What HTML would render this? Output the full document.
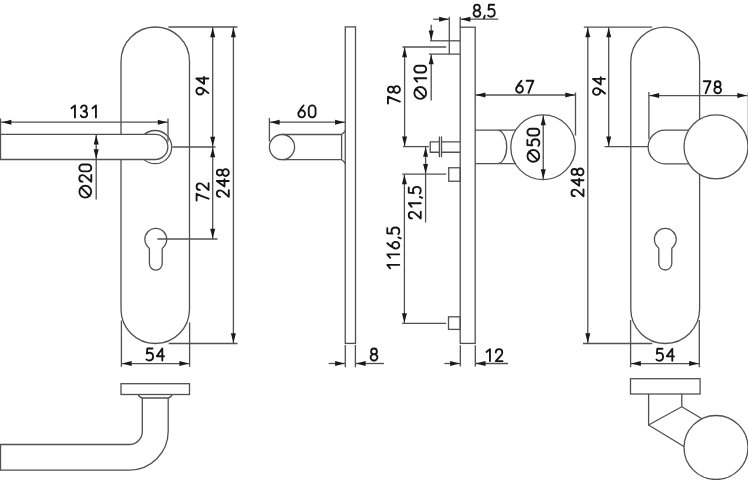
<!DOCTYPE html>
<html><head><meta charset="utf-8"><style>
html,body{margin:0;padding:0;background:#fff;width:748px;height:480px;overflow:hidden}
svg{display:block}
</style></head><body>
<svg width="748" height="480" viewBox="0 0 748 480">
<g>
<g fill="none" stroke="#505050" stroke-width="1.3">
<path d="M121,61.25 A34.25,34.25 0 0 1 189.5,61.25 L189.5,309.25 A34.25,34.25 0 0 1 121,309.25 Z" fill="#fff"/>
<path d="M149.40,249.22 Q149.40,248.12 148.51,247.41 A10.9,10.9 0 1 1 163.09,247.41 Q162.20,248.12 162.20,249.22 L162.20,263.80 A6.4,6.4 0 0 1 149.40,263.80 Z"/>
<circle cx="155.1" cy="147.1" r="16.6" fill="#fff"/>
<path d="M0.5,134.4 L155.3,134.4 A12.55,12.55 0 0 1 155.3,159.5 L0.5,159.5 Z" fill="#fff"/>
<line x1="0.5" y1="122.2" x2="168" y2="122.2"/>
<polygon points="1.80,122.20 11.40,119.70 11.40,124.70" fill="#1a1a1a" stroke="none"/>
<polygon points="167.40,122.20 157.80,119.70 157.80,124.70" fill="#1a1a1a" stroke="none"/>
<line x1="0.5" y1="118.5" x2="0.5" y2="134.4"/>
<line x1="168" y1="118.5" x2="168" y2="141.7"/>
<line x1="96.2" y1="134.4" x2="96.2" y2="199.4"/>
<polygon points="96.20,135.00 93.70,144.60 98.70,144.60" fill="#1a1a1a" stroke="none"/>
<polygon points="96.20,158.90 93.70,149.30 98.70,149.30" fill="#1a1a1a" stroke="none"/>
<line x1="168.4" y1="27" x2="237.5" y2="27"/>
<line x1="172.4" y1="147" x2="215.5" y2="147"/>
<line x1="157.4" y1="239" x2="217.5" y2="239"/>
<line x1="168.7" y1="343.5" x2="237.5" y2="343.5"/>
<line x1="212.7" y1="27" x2="212.7" y2="239"/>
<polygon points="212.70,27.60 210.20,37.20 215.20,37.20" fill="#1a1a1a" stroke="none"/>
<polygon points="212.70,146.40 210.20,136.80 215.20,136.80" fill="#1a1a1a" stroke="none"/>
<polygon points="212.70,147.60 210.20,157.20 215.20,157.20" fill="#1a1a1a" stroke="none"/>
<polygon points="212.70,238.40 210.20,228.80 215.20,228.80" fill="#1a1a1a" stroke="none"/>
<line x1="233.4" y1="27" x2="233.4" y2="343.5"/>
<polygon points="233.40,27.60 230.90,37.20 235.90,37.20" fill="#1a1a1a" stroke="none"/>
<polygon points="233.40,342.90 230.90,333.30 235.90,333.30" fill="#1a1a1a" stroke="none"/>
<line x1="121.4" y1="320.6" x2="121.4" y2="366.8"/>
<line x1="189.6" y1="322.4" x2="189.6" y2="366.8"/>
<line x1="121.4" y1="363.6" x2="189.6" y2="363.6"/>
<polygon points="122.00,363.60 131.60,361.10 131.60,366.10" fill="#1a1a1a" stroke="none"/>
<polygon points="189.00,363.60 179.40,361.10 179.40,366.10" fill="#1a1a1a" stroke="none"/>
<rect x="121" y="383.7" width="68.5" height="10.800000000000011" fill="#fff"/>
<path d="M138,394.3 Q139.6,397.9 142.3,398 L168.1,398 Q170.8,397.9 172.3,394.3"/>
<path d="M142.3,398 L142.3,431.5 A13,13 0 0 1 129.3,444.5 L0.5,444.5 L0.5,470.2 L129.3,470.2 A38.9,38.9 0 0 0 168.2,431.3 L168.2,398"/>
<rect x="345.25" y="26.9" width="10.25" height="316.5" fill="#fff"/>
<path d="M341.6,134.5 L282,134.5 M282,159.7 L341.6,159.7 L341.6,134.5 Q344,133 345.25,130.5 M341.6,159.7 Q344,161 345.25,163.6"/>
<circle cx="282" cy="147.1" r="12.6" fill="#fff"/>
<line x1="269.4" y1="122.2" x2="345.25" y2="122.2"/>
<polygon points="270.00,122.20 279.60,119.70 279.60,124.70" fill="#1a1a1a" stroke="none"/>
<polygon points="344.65,122.20 335.05,119.70 335.05,124.70" fill="#1a1a1a" stroke="none"/>
<line x1="269.4" y1="118" x2="269.4" y2="141.5"/>
<line x1="345.3" y1="345" x2="345.3" y2="367.3"/>
<line x1="355.4" y1="345" x2="355.4" y2="367.3"/>
<line x1="328.7" y1="363.5" x2="345.3" y2="363.5"/>
<polygon points="344.70,363.50 335.10,361.00 335.10,366.00" fill="#1a1a1a" stroke="none"/>
<line x1="355.4" y1="363.5" x2="384" y2="363.5"/>
<polygon points="356.00,363.50 365.60,361.00 365.60,366.00" fill="#1a1a1a" stroke="none"/>
<rect x="460.2" y="27.2" width="15.0" height="316.2" fill="#fff"/>
<line x1="449.3" y1="16.7" x2="449.3" y2="54.1"/>
<line x1="430" y1="40.8" x2="460.2" y2="40.8"/>
<line x1="429" y1="54.1" x2="460.2" y2="54.1"/>
<line x1="460.2" y1="16.7" x2="460.2" y2="27.2"/>
<line x1="433.3" y1="19.2" x2="449.3" y2="19.2"/>
<polygon points="448.70,19.20 439.10,16.70 439.10,21.70" fill="#1a1a1a" stroke="none"/>
<line x1="460.2" y1="19.2" x2="498.3" y2="19.2"/>
<polygon points="460.80,19.20 470.40,16.70 470.40,21.70" fill="#1a1a1a" stroke="none"/>
<line x1="431.2" y1="24.7" x2="431.2" y2="40.8"/>
<polygon points="431.20,40.20 428.70,30.60 433.70,30.60" fill="#1a1a1a" stroke="none"/>
<line x1="431.2" y1="54.1" x2="431.2" y2="100.5"/>
<polygon points="431.20,54.70 428.70,64.30 433.70,64.30" fill="#1a1a1a" stroke="none"/>
<line x1="402.4" y1="47" x2="446.2" y2="47"/>
<line x1="402.9" y1="146.6" x2="428.8" y2="146.6"/>
<line x1="404.6" y1="47" x2="404.6" y2="146.6"/>
<polygon points="404.60,47.60 402.10,57.20 407.10,57.20" fill="#1a1a1a" stroke="none"/>
<polygon points="404.60,146.00 402.10,136.40 407.10,136.40" fill="#1a1a1a" stroke="none"/>
<path d="M439.4,141.9 L430.25,141.9 L430.25,152.25 L439.4,152.25 M441.5,141.9 L460.2,141.9 M441.5,152.25 L460.2,152.25"/>
<line x1="439.4" y1="136.5" x2="439.4" y2="157.25"/>
<line x1="441.5" y1="136.5" x2="441.5" y2="157.25"/>
<line x1="425.6" y1="146.6" x2="425.6" y2="222.5"/>
<polygon points="425.60,147.20 423.10,156.80 428.10,156.80" fill="#1a1a1a" stroke="none"/>
<polygon points="425.60,173.50 423.10,163.90 428.10,163.90" fill="#1a1a1a" stroke="none"/>
<line x1="402.3" y1="174.1" x2="446.2" y2="174.1"/>
<rect x="448.75" y="167.75" width="11.449999999999989" height="13.5" fill="none"/>
<rect x="448.5" y="316.8" width="11.699999999999989" height="12.599999999999966" fill="none"/>
<line x1="404.4" y1="174.1" x2="404.4" y2="323.4"/>
<polygon points="404.40,174.70 401.90,184.30 406.90,184.30" fill="#1a1a1a" stroke="none"/>
<polygon points="404.40,322.80 401.90,313.20 406.90,313.20" fill="#1a1a1a" stroke="none"/>
<line x1="402.2" y1="323.4" x2="446.2" y2="323.4"/>
<line x1="460.3" y1="345.3" x2="460.3" y2="366.5"/>
<line x1="475.3" y1="345.3" x2="475.3" y2="366.5"/>
<line x1="444.4" y1="363.5" x2="460.3" y2="363.5"/>
<polygon points="459.70,363.50 450.10,361.00 450.10,366.00" fill="#1a1a1a" stroke="none"/>
<line x1="475.3" y1="363.5" x2="508.1" y2="363.5"/>
<polygon points="475.90,363.50 485.50,361.00 485.50,366.00" fill="#1a1a1a" stroke="none"/>
<path d="M475.2,130.1 L520,130.1 M475.2,163.7 L520,163.7 M497.3,130.1 A9.4,16.8 0 0 1 497.3,163.7"/>
<circle cx="543.1" cy="147.25" r="32.3" fill="#fff"/>
<line x1="475.2" y1="95" x2="575.5" y2="95"/>
<polygon points="475.80,95.00 485.40,92.50 485.40,97.50" fill="#1a1a1a" stroke="none"/>
<polygon points="574.90,95.00 565.30,92.50 565.30,97.50" fill="#1a1a1a" stroke="none"/>
<line x1="575.5" y1="92.5" x2="575.5" y2="135.5"/>
<line x1="543.25" y1="115" x2="543.25" y2="179.5"/>
<polygon points="543.25,115.60 540.75,125.20 545.75,125.20" fill="#1a1a1a" stroke="none"/>
<polygon points="543.25,178.90 540.75,169.30 545.75,169.30" fill="#1a1a1a" stroke="none"/>
<path d="M630.8,61.500000000000036 A34.400000000000034,34.400000000000034 0 0 1 699.6,61.500000000000036 L699.6,309.09999999999997 A34.400000000000034,34.400000000000034 0 0 1 630.8,309.09999999999997 Z" fill="#fff"/>
<path d="M658.80,249.15 Q658.80,248.05 657.92,247.32 A10.9,10.9 0 1 1 672.68,247.32 Q671.80,248.05 671.80,249.15 L671.80,263.50 A6.5,6.5 0 0 1 658.80,263.50 Z"/>
<path d="M665,130.1 L700,130.1 L700,163.8 L665,163.8 A16.85,16.85 0 0 1 665,130.1 Z" fill="#fff"/>
<circle cx="716" cy="146.8" r="32" fill="#fff"/>
<line x1="583.8" y1="27.1" x2="652.1" y2="27.1"/>
<line x1="604.6" y1="146.6" x2="648" y2="146.6"/>
<line x1="583" y1="343.5" x2="652.2" y2="343.5"/>
<line x1="587.8" y1="27.1" x2="587.8" y2="343.5"/>
<polygon points="587.80,27.70 585.30,37.30 590.30,37.30" fill="#1a1a1a" stroke="none"/>
<polygon points="587.80,342.90 585.30,333.30 590.30,333.30" fill="#1a1a1a" stroke="none"/>
<line x1="608.7" y1="27.1" x2="608.7" y2="146.6"/>
<polygon points="608.70,27.70 606.20,37.30 611.20,37.30" fill="#1a1a1a" stroke="none"/>
<polygon points="608.70,146.00 606.20,136.40 611.20,136.40" fill="#1a1a1a" stroke="none"/>
<line x1="648.9" y1="92" x2="648.9" y2="139.3"/>
<line x1="648.9" y1="95.6" x2="747.5" y2="95.6"/>
<polygon points="649.50,95.60 659.10,93.10 659.10,98.10" fill="#1a1a1a" stroke="none"/>
<polygon points="746.90,95.60 737.30,93.10 737.30,98.10" fill="#1a1a1a" stroke="none"/>
<line x1="748.4" y1="92" x2="748.4" y2="140"/>
<line x1="630.6" y1="320" x2="630.6" y2="367.2"/>
<line x1="699.3" y1="320" x2="699.3" y2="367.2"/>
<line x1="630.6" y1="363.6" x2="699.3" y2="363.6"/>
<polygon points="631.20,363.60 640.80,361.10 640.80,366.10" fill="#1a1a1a" stroke="none"/>
<polygon points="698.70,363.60 689.10,361.10 689.10,366.10" fill="#1a1a1a" stroke="none"/>
<rect x="630.5" y="378.7" width="69.60000000000002" height="15.300000000000011" fill="#fff"/>
<path d="M648.6,394 L648.6,425 L681.8,406.7 L681.8,394 M681.8,406.7 L702,418.8 M648.6,425 L684.3,446.7"/>
<circle cx="716" cy="447.5" r="32" fill="#fff"/>
</g>
<g fill="none" stroke="#151515" stroke-width="1.85" stroke-linecap="round" stroke-linejoin="round">
<g transform="matrix(1.0,0,0,1.0,69.30,104.55)"><path transform="translate(0.85,0.85)" d="M1.3,2.9 L4.8,0 V12"/><path transform="translate(11.35,0.85)" d="M0.4,2.5 C0.9,0.9 2.0,0 3.3,0 C4.9,0 6.0,1.2 6.0,2.9 C6.0,4.6 4.8,5.8 2.9,5.8 M2.9,5.8 C5.0,5.8 6.5,7.0 6.5,8.9 C6.5,10.8 5.1,12 3.2,12 C1.7,12 0.6,11.3 0.1,10.0"/><path transform="translate(21.85,0.85)" d="M1.3,2.9 L4.8,0 V12"/></g>
<g transform="matrix(0,-1.0,1.0,0,78.45,198.45)"><path transform="translate(0.85,0.85)" d="M11.8,6 A5.9,5.9 0 1 1 0,6 A5.9,5.9 0 1 1 11.8,6 Z M1.6,10.3 L10.2,1.7"/><path transform="translate(16.65,0.85)" d="M0.15,3.3 C0.15,1.35 1.6,0 3.4,0 C5.3,0 6.65,1.4 6.65,3.3 C6.65,4.6 6.0,5.5 5.2,6.4 L0.1,12 H6.9"/><path transform="translate(27.15,0.85)" d="M0,3.4 A3.4,3.4 0 0 1 6.8,3.4 V8.6 A3.4,3.4 0 0 1 0,8.6 Z"/></g>
<g transform="matrix(0,-1.0,1.0,0,195.50,95.35)"><path transform="translate(0.85,0.85)" d="M1.4,12 Q4.8,8.6 6.55,4.4 M0,3.6 A3.4,3.6 0 1 1 6.8,3.6 A3.4,3.6 0 1 1 0,3.6 Z"/><path transform="translate(11.35,0.85)" d="M5.5,12 V0 L0,7.7 H7.2"/></g>
<g transform="matrix(0,-1.0,1.0,0,195.75,201.45)"><path transform="translate(0.85,0.85)" d="M0,0 H6.8 C5.0,3.8 3.4,7.6 1.9,12"/><path transform="translate(11.35,0.85)" d="M0.15,3.3 C0.15,1.35 1.6,0 3.4,0 C5.3,0 6.65,1.4 6.65,3.3 C6.65,4.6 6.0,5.5 5.2,6.4 L0.1,12 H6.9"/></g>
<g transform="matrix(0,-1.0,1.0,0,215.95,197.80)"><path transform="translate(0.85,0.85)" d="M0.15,3.3 C0.15,1.35 1.6,0 3.4,0 C5.3,0 6.65,1.4 6.65,3.3 C6.65,4.6 6.0,5.5 5.2,6.4 L0.1,12 H6.9"/><path transform="translate(11.35,0.85)" d="M5.5,12 V0 L0,7.7 H7.2"/><path transform="translate(21.85,0.85)" d="M6.3,2.9 A2.9,2.9 0 1 1 0.5,2.9 A2.9,2.9 0 1 1 6.3,2.9 Z M6.8,8.85 A3.4,3.15 0 1 1 0,8.85 A3.4,3.15 0 1 1 6.8,8.85 Z"/></g>
<g transform="matrix(1.0,0,0,1.0,145.45,347.65)"><path transform="translate(0.85,0.85)" d="M6.2,0 H1.0 L0.6,5.0 C1.4,4.4 2.3,4.2 3.2,4.2 C5.3,4.2 6.8,5.8 6.8,8.1 C6.8,10.4 5.2,12 3.1,12 C1.9,12 0.9,11.6 0.15,10.9"/><path transform="translate(11.35,0.85)" d="M5.5,12 V0 L0,7.7 H7.2"/></g>
<g transform="matrix(1.0,0,0,1.0,297.40,104.58)"><path transform="translate(0.85,0.85)" d="M5.4,0 Q2.0,3.4 0.25,7.6 M6.8,8.4 A3.4,3.6 0 1 1 0,8.4 A3.4,3.6 0 1 1 6.8,8.4 Z"/><path transform="translate(11.35,0.85)" d="M0,3.4 A3.4,3.4 0 0 1 6.8,3.4 V8.6 A3.4,3.4 0 0 1 0,8.6 Z"/></g>
<g transform="matrix(1.0,0,0,1.0,369.75,347.65)"><path transform="translate(0.85,0.85)" d="M6.3,2.9 A2.9,2.9 0 1 1 0.5,2.9 A2.9,2.9 0 1 1 6.3,2.9 Z M6.8,8.85 A3.4,3.15 0 1 1 0,8.85 A3.4,3.15 0 1 1 6.8,8.85 Z"/></g>
<g transform="matrix(1.0,0,0,1.0,472.70,3.85)"><path transform="translate(0.85,0.85)" d="M6.3,2.9 A2.9,2.9 0 1 1 0.5,2.9 A2.9,2.9 0 1 1 6.3,2.9 Z M6.8,8.85 A3.4,3.15 0 1 1 0,8.85 A3.4,3.15 0 1 1 6.8,8.85 Z"/><path transform="translate(11.35,0.85)" d="M0.7,11.0 L-0.2,13.5"/><path transform="translate(15.25,0.85)" d="M6.2,0 H1.0 L0.6,5.0 C1.4,4.4 2.3,4.2 3.2,4.2 C5.3,4.2 6.8,5.8 6.8,8.1 C6.8,10.4 5.2,12 3.1,12 C1.9,12 0.9,11.6 0.15,10.9"/></g>
<g transform="matrix(0,-1.0,1.0,0,413.40,99.65)"><path transform="translate(0.85,0.85)" d="M11.8,6 A5.9,5.9 0 1 1 0,6 A5.9,5.9 0 1 1 11.8,6 Z M1.6,10.3 L10.2,1.7"/><path transform="translate(16.65,0.85)" d="M1.3,2.9 L4.8,0 V12"/><path transform="translate(27.15,0.85)" d="M0,3.4 A3.4,3.4 0 0 1 6.8,3.4 V8.6 A3.4,3.4 0 0 1 0,8.6 Z"/></g>
<g transform="matrix(0,-1.0,1.0,0,387.10,104.30)"><path transform="translate(0.85,0.85)" d="M0,0 H6.8 C5.0,3.8 3.4,7.6 1.9,12"/><path transform="translate(11.35,0.85)" d="M6.3,2.9 A2.9,2.9 0 1 1 0.5,2.9 A2.9,2.9 0 1 1 6.3,2.9 Z M6.8,8.85 A3.4,3.15 0 1 1 0,8.85 A3.4,3.15 0 1 1 6.8,8.85 Z"/></g>
<g transform="matrix(0,-1.0,1.0,0,407.90,219.45)"><path transform="translate(0.85,0.85)" d="M0.15,3.3 C0.15,1.35 1.6,0 3.4,0 C5.3,0 6.65,1.4 6.65,3.3 C6.65,4.6 6.0,5.5 5.2,6.4 L0.1,12 H6.9"/><path transform="translate(11.35,0.85)" d="M1.3,2.9 L4.8,0 V12"/><path transform="translate(21.85,0.85)" d="M0.7,11.0 L-0.2,13.5"/><path transform="translate(25.75,0.85)" d="M6.2,0 H1.0 L0.6,5.0 C1.4,4.4 2.3,4.2 3.2,4.2 C5.3,4.2 6.8,5.8 6.8,8.1 C6.8,10.4 5.2,12 3.1,12 C1.9,12 0.9,11.6 0.15,10.9"/></g>
<g transform="matrix(0,-1.0,1.0,0,386.45,270.50)"><path transform="translate(0.85,0.85)" d="M1.3,2.9 L4.8,0 V12"/><path transform="translate(11.35,0.85)" d="M1.3,2.9 L4.8,0 V12"/><path transform="translate(21.85,0.85)" d="M5.4,0 Q2.0,3.4 0.25,7.6 M6.8,8.4 A3.4,3.6 0 1 1 0,8.4 A3.4,3.6 0 1 1 6.8,8.4 Z"/><path transform="translate(32.35,0.85)" d="M0.7,11.0 L-0.2,13.5"/><path transform="translate(36.25,0.85)" d="M6.2,0 H1.0 L0.6,5.0 C1.4,4.4 2.3,4.2 3.2,4.2 C5.3,4.2 6.8,5.8 6.8,8.1 C6.8,10.4 5.2,12 3.1,12 C1.9,12 0.9,11.6 0.15,10.9"/></g>
<g transform="matrix(1.0,0,0,1.0,484.30,348.27)"><path transform="translate(0.85,0.85)" d="M1.3,2.9 L4.8,0 V12"/><path transform="translate(11.35,0.85)" d="M0.15,3.3 C0.15,1.35 1.6,0 3.4,0 C5.3,0 6.65,1.4 6.65,3.3 C6.65,4.6 6.0,5.5 5.2,6.4 L0.1,12 H6.9"/></g>
<g transform="matrix(1.0,0,0,1.0,515.25,79.90)"><path transform="translate(0.85,0.85)" d="M5.4,0 Q2.0,3.4 0.25,7.6 M6.8,8.4 A3.4,3.6 0 1 1 0,8.4 A3.4,3.6 0 1 1 6.8,8.4 Z"/><path transform="translate(11.35,0.85)" d="M0,0 H6.8 C5.0,3.8 3.4,7.6 1.9,12"/></g>
<g transform="matrix(0,-1.0,1.0,0,526.52,162.65)"><path transform="translate(0.85,0.85)" d="M11.8,6 A5.9,5.9 0 1 1 0,6 A5.9,5.9 0 1 1 11.8,6 Z M1.6,10.3 L10.2,1.7"/><path transform="translate(16.65,0.85)" d="M6.2,0 H1.0 L0.6,5.0 C1.4,4.4 2.3,4.2 3.2,4.2 C5.3,4.2 6.8,5.8 6.8,8.1 C6.8,10.4 5.2,12 3.1,12 C1.9,12 0.9,11.6 0.15,10.9"/><path transform="translate(27.15,0.85)" d="M0,3.4 A3.4,3.4 0 0 1 6.8,3.4 V8.6 A3.4,3.4 0 0 1 0,8.6 Z"/></g>
<g transform="matrix(0,-1.0,1.0,0,570.65,197.15)"><path transform="translate(0.85,0.85)" d="M0.15,3.3 C0.15,1.35 1.6,0 3.4,0 C5.3,0 6.65,1.4 6.65,3.3 C6.65,4.6 6.0,5.5 5.2,6.4 L0.1,12 H6.9"/><path transform="translate(11.35,0.85)" d="M5.5,12 V0 L0,7.7 H7.2"/><path transform="translate(21.85,0.85)" d="M6.3,2.9 A2.9,2.9 0 1 1 0.5,2.9 A2.9,2.9 0 1 1 6.3,2.9 Z M6.8,8.85 A3.4,3.15 0 1 1 0,8.85 A3.4,3.15 0 1 1 6.8,8.85 Z"/></g>
<g transform="matrix(0,-1.0,1.0,0,592.15,95.75)"><path transform="translate(0.85,0.85)" d="M1.4,12 Q4.8,8.6 6.55,4.4 M0,3.6 A3.4,3.6 0 1 1 6.8,3.6 A3.4,3.6 0 1 1 0,3.6 Z"/><path transform="translate(11.35,0.85)" d="M5.5,12 V0 L0,7.7 H7.2"/></g>
<g transform="matrix(1.0,0,0,1.0,702.90,80.40)"><path transform="translate(0.85,0.85)" d="M0,0 H6.8 C5.0,3.8 3.4,7.6 1.9,12"/><path transform="translate(11.35,0.85)" d="M6.3,2.9 A2.9,2.9 0 1 1 0.5,2.9 A2.9,2.9 0 1 1 6.3,2.9 Z M6.8,8.85 A3.4,3.15 0 1 1 0,8.85 A3.4,3.15 0 1 1 6.8,8.85 Z"/></g>
<g transform="matrix(1.0,0,0,1.0,655.45,347.85)"><path transform="translate(0.85,0.85)" d="M6.2,0 H1.0 L0.6,5.0 C1.4,4.4 2.3,4.2 3.2,4.2 C5.3,4.2 6.8,5.8 6.8,8.1 C6.8,10.4 5.2,12 3.1,12 C1.9,12 0.9,11.6 0.15,10.9"/><path transform="translate(11.35,0.85)" d="M5.5,12 V0 L0,7.7 H7.2"/></g>
</g>
</g>
</svg>
</body></html>
